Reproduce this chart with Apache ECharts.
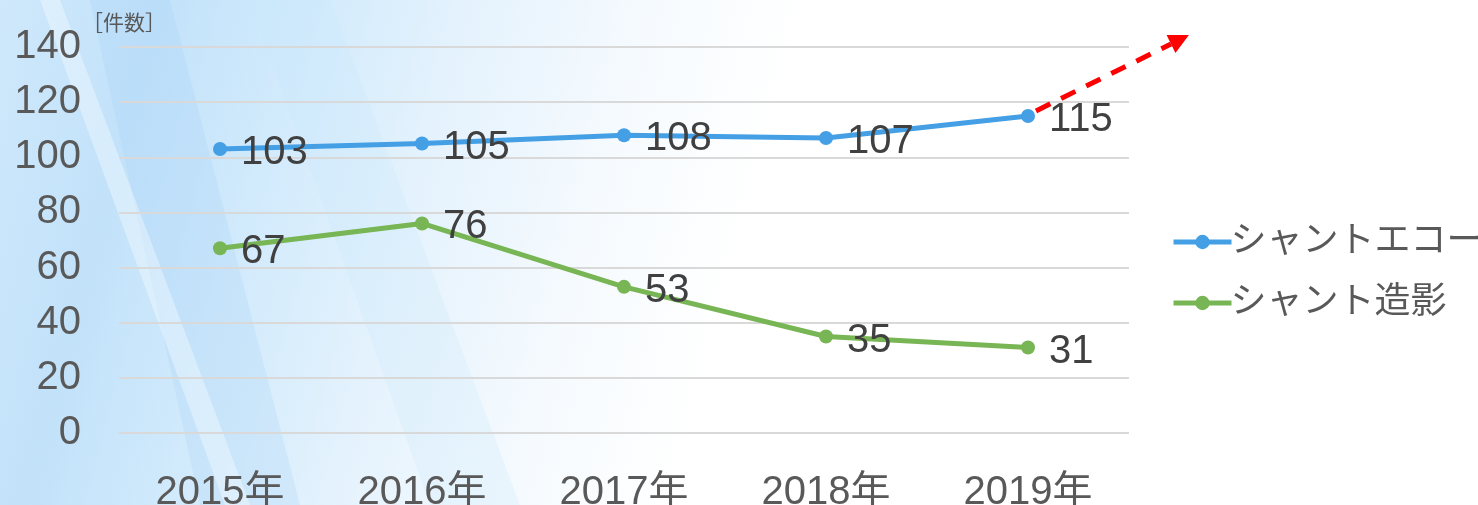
<!DOCTYPE html>
<html><head><meta charset="utf-8">
<script src="https://cdn.jsdelivr.net/npm/echarts@6/dist/echarts.min.js"></script>
<style>
html,body{margin:0;padding:0;width:1478px;height:505px;overflow:hidden;
background:linear-gradient(105deg,#cfe8fb 0%,#c2e2fa 10%,#d3ebfc 20%,#e6f3fd 30%,#f5fafe 40%,#ffffff 50%);}
#c{width:1478px;height:505px;}
</style></head><body>
<div id="c"></div>
<script>
var categories=['2015年','2016年','2017年','2018年','2019年'];
var echoValues=[103,105,108,107,115];
var angioValues=[67,76,53,35,31];
var seriesNames=['シャントエコー','シャント造影'];
var yTicks={min:0,max:140,interval:20};
var unitLabel='［件数］';

var chart=echarts.init(document.getElementById('c'),null,{renderer:'canvas'});
var font='"Liberation Sans","Noto Sans CJK JP",Arial,sans-serif';
var labelCfg={show:true,position:'right',offset:[0,4],fontSize:40,color:'#404040',fontFamily:font,distance:14};
chart.setOption({
  backgroundColor:'transparent',
  animation:false,
  graphic:[
    {id:'bg1',type:'polygon',silent:true,z:-10,shape:{points:[[90,0],[170,0],[300,505],[200,505]]},style:{fill:'rgba(160,205,245,0.22)'}},
    {id:'bg2',type:'polygon',silent:true,z:-10,shape:{points:[[40,0],[60,0],[250,505],[225,505]]},style:{fill:'rgba(255,255,255,0.35)'}},
    {id:'bg3',type:'polygon',silent:true,z:-10,shape:{points:[[250,0],[330,0],[520,505],[430,505]]},style:{fill:'rgba(200,230,252,0.25)'}},
    {id:'unit',type:'text',left:82,top:14,style:{text:unitLabel,fontSize:21,fill:'#595959',fontFamily:font}}
  ],
  grid:{left:119,right:349,top:47,bottom:72,containLabel:false,outerBoundsMode:'none'},
  legend:{
    orient:'vertical',left:1166,top:219,itemWidth:58,itemHeight:18,itemGap:25,
    lineStyle:{width:5},
    textStyle:{fontSize:36,color:'#595959',fontFamily:font,padding:[0,0,0,-6]},
    data:seriesNames
  },
  xAxis:{type:'category',data:categories,boundaryGap:true,
    axisLine:{show:false},axisTick:{show:false},
    axisLabel:{fontSize:40,color:'#595959',fontFamily:font,margin:40}},
  yAxis:{type:'value',min:yTicks.min,max:yTicks.max,interval:yTicks.interval,
    axisLine:{show:false},axisTick:{show:false},
    splitLine:{lineStyle:{color:'#d9d9d9',width:2}},
    axisLabel:{fontSize:40,color:'#595959',fontFamily:font,margin:38}},
  series:[
    {name:seriesNames[0],type:'line',data:echoValues,symbol:'circle',symbolSize:14,
      lineStyle:{width:5,color:'#449fe5'},itemStyle:{color:'#449fe5'},label:labelCfg},
    {name:seriesNames[1],type:'line',data:angioValues,symbol:'circle',symbolSize:14,
      lineStyle:{width:5,color:'#78b554'},itemStyle:{color:'#78b554'},label:labelCfg}
  ]
});
// red dashed trend arrow from the last echo point
var p=chart.convertToPixel({gridIndex:0},[categories[4],echoValues[4]]);
var sx=p[0]+8, sy=p[1]-5, ex=p[0]+143, ey=p[1]-72;
var ang=Math.atan2(ey-sy,ex-sx);
var tipX=ex+20*Math.cos(ang), tipY=ey+20*Math.sin(ang);
var w=10;
chart.setOption({graphic:[
  {id:'arrowLine',type:'line',silent:true,z:20,shape:{x1:sx,y1:sy,x2:ex,y2:ey},style:{stroke:'#ff0000',lineWidth:5,lineDash:[16,12]}},
  {id:'arrowHead',type:'polygon',silent:true,z:20,shape:{points:[[tipX,tipY],[ex-w*Math.sin(ang),ey+w*Math.cos(ang)],[ex+w*Math.sin(ang),ey-w*Math.cos(ang)]]},style:{fill:'#ff0000'}}
]});
</script>
</body></html>
